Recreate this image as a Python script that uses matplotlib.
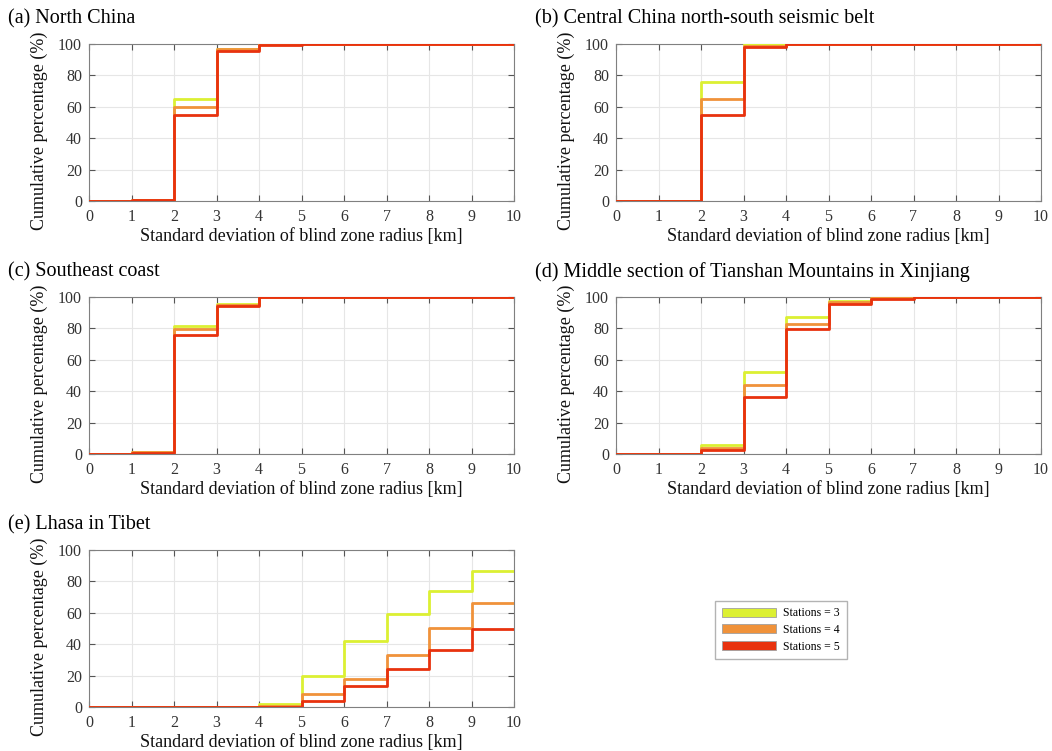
import matplotlib
matplotlib.use("Agg")
import matplotlib.pyplot as plt
import numpy as np
from matplotlib.patches import Patch

plt.rcParams['font.family'] = ['Liberation Serif', 'DejaVu Serif']

# bin edges 0..10, one value per 1 km bin
EDGES = np.arange(0, 11)
TITLES = ["(a) North China",
          "(b) Central China north-south seismic belt",
          "(c) Southeast coast",
          "(d) Middle section of Tianshan Mountains in Xinjiang",
          "(e) Lhasa in Tibet"]
LABELS = ["Stations = 3", "Stations = 4", "Stations = 5"]
COLORS = ["#dcf032", "#f0923a", "#e8320e"]

north_china = [
    [0.3, 0.5, 65.0, 97.0, 100, 100, 100, 100, 100, 100],
    [0.3, 0.5, 60.0, 96.5, 99.8, 100, 100, 100, 100, 100],
    [0.3, 0.5, 55.0, 95.5, 99.6, 100, 100, 100, 100, 100],
]
central_china = [
    [0.0, 0.0, 76.0, 99.8, 100, 100, 100, 100, 100, 100],
    [0.0, 0.0, 65.0, 98.6, 100, 100, 100, 100, 100, 100],
    [0.0, 0.0, 54.5, 98.0, 100, 100, 100, 100, 100, 100],
]
southeast_coast = [
    [0.3, 1.3, 81.5, 95.8, 100, 100, 100, 100, 100, 100],
    [0.3, 1.0, 79.4, 95.0, 100, 100, 100, 100, 100, 100],
    [0.3, 0.8, 75.5, 94.3, 100, 100, 100, 100, 100, 100],
]
tianshan = [
    [0.0, 0.0, 5.5, 52.0, 87.3, 97.5, 99.5, 100, 100, 100],
    [0.0, 0.0, 4.0, 44.0, 83.0, 96.5, 99.2, 100, 100, 100],
    [0.0, 0.0, 2.5, 36.0, 79.3, 95.3, 99.0, 100, 100, 100],
]
lhasa = [
    [0.0, 0.0, 0.0, 0.0, 1.9, 20.0, 42.1, 59.2, 73.8, 86.8],
    [0.0, 0.0, 0.0, 0.0, 0.7, 8.3, 17.9, 33.4, 50.4, 66.4],
    [0.0, 0.0, 0.0, 0.0, 0.3, 3.8, 13.6, 24.3, 36.6, 49.8],
]
PANELS = [north_china, central_china, southeast_coast, tianshan, lhasa]

W, H = 1052, 751
# axes boxes in pixels: left, right, top, bottom
BOXES = [(89, 514, 44, 201), (616, 1041, 44, 201),
         (89, 514, 297, 454), (616, 1041, 297, 454),
         (89, 514, 550, 707)]


def draw_panel(ax, series):
    for vals, c in zip(series, COLORS):
        y = list(vals) + [vals[-1]]
        ax.step(EDGES, y, where='post', color=c, lw=2.0, zorder=3)
    ax.set_xlim(0, 10)
    ax.set_ylim(0, 100)
    ax.set_xticks(EDGES)
    ax.set_yticks(np.arange(0, 101, 20))
    ax.grid(True, color='#e6e6e6', lw=0.8, zorder=0)
    ax.tick_params(direction='in', top=True, right=True, length=4,
                   color='#555555', labelcolor='#333333', labelsize=11.5)
    ax.tick_params(axis='x', pad=6)
    ax.tick_params(axis='y', pad=5)
    for s in ax.spines.values():
        s.set_color('#808080')
        s.set_linewidth(0.8)
    ax.set_xlabel('Standard deviation of blind zone radius [km]',
                  fontsize=13, color='#111111')
    ax.set_ylabel('Cumulative percentage (%)', fontsize=13, color='#111111')
    ax.xaxis.set_label_coords(0.5, -0.175)
    ax.yaxis.set_label_coords(-0.097, 0.45)


fig = plt.figure(figsize=(W / 100, H / 100), dpi=100)
for (l, r, t, b), title, series in zip(BOXES, TITLES, PANELS):
    ax = fig.add_axes([l / W, 1 - b / H, (r - l) / W, (b - t) / H])
    draw_panel(ax, series)
    fig.text((l - 81) / W, 1 - (t - 25) / H, title, fontsize=14.5,
             ha='left', va='center')

handles = [Patch(facecolor=c, edgecolor='#a0a0a0', lw=0.6) for c in COLORS]
fig.legend(handles, LABELS, loc='center', bbox_to_anchor=(781 / W, 1 - 630 / H),
           fontsize=8.5, frameon=True, fancybox=False, edgecolor='#a0a0a0',
           handlelength=4.6, handleheight=0.8, labelspacing=0.4,
           borderpad=0.55, handletextpad=0.6)

fig.savefig('out.png', dpi=100)
